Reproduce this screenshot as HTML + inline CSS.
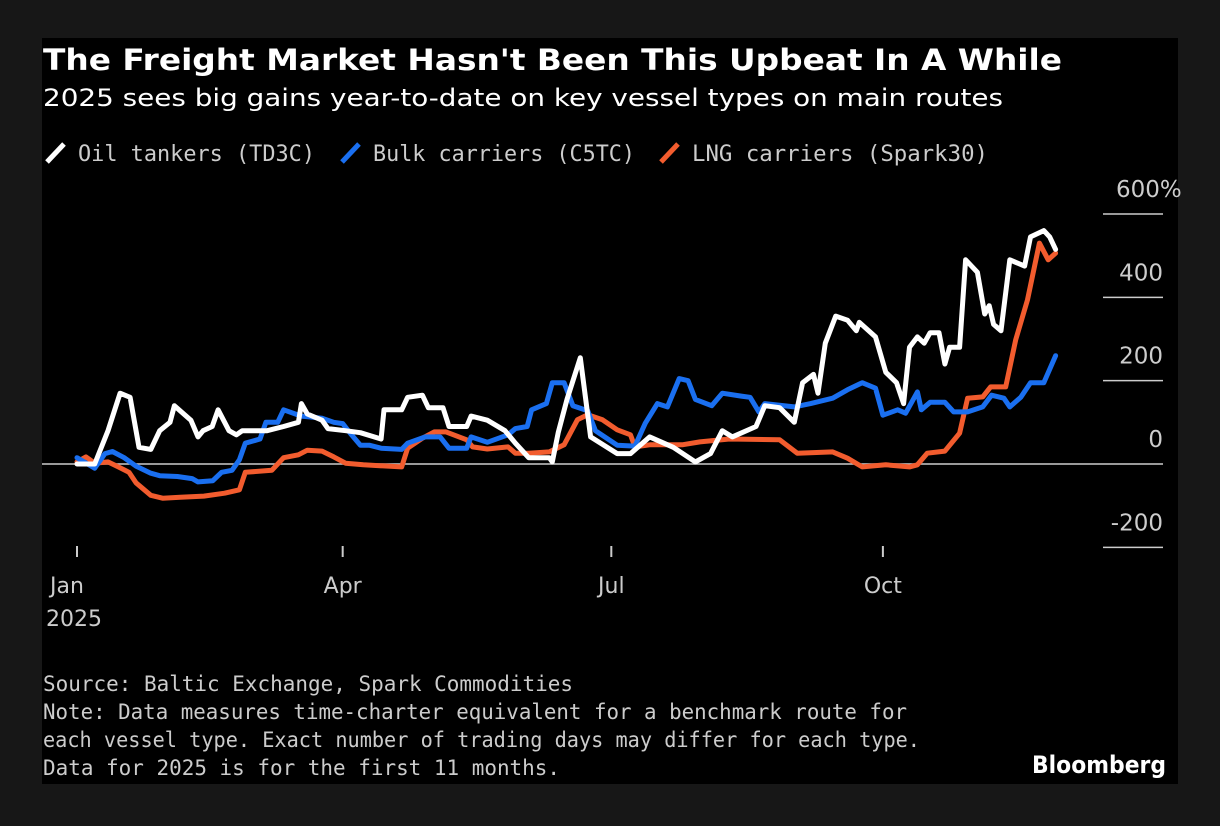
<!DOCTYPE html>
<html><head><meta charset="utf-8"><style>
html,body{margin:0;padding:0;background:#171717;}
svg{display:block;}
text{font-family:"DejaVu Sans","Liberation Sans",sans-serif;}
.mono{font-family:"DejaVu Sans Mono","Liberation Mono",monospace;}
</style></head><body>
<svg width="1220" height="826" viewBox="0 0 1220 826">
<rect x="0" y="0" width="1220" height="826" fill="#171717"/>
<rect x="42" y="38" width="1136" height="746" fill="#000"/>
<text x="43" y="70" fill="#fff" font-size="29" font-weight="bold" textLength="1019" lengthAdjust="spacingAndGlyphs">The Freight Market Hasn't Been This Upbeat In A While</text>
<text x="43" y="106" fill="#fff" font-size="24" textLength="960" lengthAdjust="spacingAndGlyphs">2025 sees big gains year-to-date on key vessel types on main routes</text>
<g>
 <g><line x1="47" y1="162" x2="64" y2="144" stroke="#fff" stroke-width="5"/><text class="mono" x="78" y="161" fill="#ccc" font-size="22" textLength="237" lengthAdjust="spacingAndGlyphs">Oil tankers (TD3C)</text></g>
 <g><line x1="342" y1="162" x2="359" y2="144" stroke="#1a6ff0" stroke-width="5"/><text class="mono" x="373" y="161" fill="#ccc" font-size="22" textLength="262" lengthAdjust="spacingAndGlyphs">Bulk carriers (C5TC)</text></g>
 <g><line x1="661" y1="162" x2="678" y2="144" stroke="#f25c2e" stroke-width="5"/><text class="mono" x="692" y="161" fill="#ccc" font-size="22" textLength="296" lengthAdjust="spacingAndGlyphs">LNG carriers (Spark30)</text></g>
</g>
<g id="axes"></g>
<g id="plot"></g>
<text class="mono" x="43" y="691" fill="#ccc" font-size="21" textLength="530" lengthAdjust="spacingAndGlyphs">Source: Baltic Exchange, Spark Commodities</text>
<text class="mono" x="43" y="719" fill="#ccc" font-size="21" textLength="864" lengthAdjust="spacingAndGlyphs">Note: Data measures time-charter equivalent for a benchmark route for</text>
<text class="mono" x="43" y="747" fill="#ccc" font-size="21" textLength="877" lengthAdjust="spacingAndGlyphs">each vessel type. Exact number of trading days may differ for each type.</text>
<text class="mono" x="43" y="775" fill="#ccc" font-size="21" textLength="517" lengthAdjust="spacingAndGlyphs">Data for 2025 is for the first 11 months.</text>
<text x="1032" y="773" fill="#fff" font-size="24" font-weight="bold" textLength="134" lengthAdjust="spacingAndGlyphs">Bloomberg</text>
</svg>
<script>
const yTicks=[600,400,200,0,-200];
const yTickLabels=["600%","400","200","0","-200"];
const xTickDays=[0,90,181,273];
const xTickLabels=["Jan","Apr","Jul","Oct"];
const oilDays=[0,6,10.5,14.6,18,21,25,28,31.5,33,38.6,41,42.7,45.8,47.8,51.5,54,56,64.4,70,75,76,78,83,85,91,96,103,104,110,112,117,119,124,126,132,133.5,139,145,148.5,153,160,161,163,166,170.5,174,183,187.5,194,202,209.5,214.6,218.6,222,230,233,238,243,245.8,249.5,251,253.5,257,261,264,265,270.5,274,277.6,280,282,284.7,287,289,292,294,295.6,299,301,305,307.5,309,310.5,313,316,321,323,327.5,329.5,331.5];
const oilVals=[0,0,80,170,160,40,35,80,100,140,105,65,80,90,130,80,70,80,80,90,100,145,120,105,85,80,75,60,130,130,160,165,135,135,90,90,115,105,80,50,15,15,5,75,155,255,65,25,25,65,40,5,25,80,65,90,140,135,100,195,215,170,290,355,345,320,340,305,220,195,145,280,305,290,315,315,240,280,280,490,460,360,380,335,320,490,475,545,560,545,515];
const bulkDays=[0,6,9.5,12,16,20,25,28,34,39,41,46,49,52.5,55,57,62,64,68,70,76,83,87,90,93,96,99,103,110,112,118,123,126,132,133.5,139,146,148.5,152.5,154,159,161,165,168,173,175.6,183,189,192.5,196.6,200,204,207,209.5,215,218.6,225,228,231,233,243,248.5,256,261,266,270.5,273,278,280.7,284.7,286,289,294,297,301.7,306.8,309.8,314,316,319.7,323,327.5,331.5];
const bulkVals=[15,-10,25,30,15,-5,-22,-28,-30,-35,-43,-40,-20,-15,10,50,60,100,100,130,115,110,100,97,70,45,45,38,35,50,65,65,38,38,65,52,70,85,90,130,145,195,195,140,128,80,45,43,98,145,137,205,200,155,140,170,163,160,125,145,137,145,158,178,195,182,117,130,122,173,130,148,148,125,125,137,165,158,137,160,195,195,260];
const lngDays=[0,3,6,10.5,14,17.6,20,25,29,35,43,50,55,57,66,70,75,78,83,87,91,97,110,112,117,121,125,132,134,139,146,148.5,153,160,165,169.5,173,178,183,187.5,189,194,205,211,221,238,244,256,261,266,274,282,284.7,288,294,299,301.7,306.8,309.5,314.6,318,322,326,329,331.5];
const lngVals=[5,17,2,5,-7,-20,-45,-75,-82,-80,-77,-70,-62,-20,-15,15,22,33,31,17,2,-2,-7,38,62,77,77,58,41,36,41,26,26,29,46,106,118,106,82,70,41,46,46,53,60,58,26,29,14,-7,-2,-7,-2,26,31,74,158,161,185,185,298,394,530,490,506];

const NS="http://www.w3.org/2000/svg";
const xScale=d=>77+d*2.952;
const yScale=v=>464-v*0.4167;
const axes=document.getElementById('axes');
const plot=document.getElementById('plot');
function mk(tag,attrs,parent){const e=document.createElementNS(NS,tag);for(const k in attrs)e.setAttribute(k,attrs[k]);parent.appendChild(e);return e;}

yTicks.forEach((t,i)=>{
  if(t!==0){
    const g=mk('line',{x1:1103,x2:1163,y1:yScale(t),y2:yScale(t),stroke:'#ccc','stroke-width':1.5},axes);
    
    
  }
  const lbl=mk('text',{x:1163,y:yScale(t)-17,fill:'#ccc','font-size':23,'text-anchor':'end'},axes);
  lbl.textContent=yTickLabels[i].replace('%','');
  if(yTickLabels[i].endsWith('%')){const s=mk('tspan',{},lbl);s.textContent='%';lbl.setAttribute('text-anchor','start');lbl.setAttribute('x',1116);}
  
  
});
const zl=mk('line',{x1:42,x2:1163,y1:yScale(0),y2:yScale(0),stroke:'#ccc','stroke-width':1.5},axes);


xTickDays.forEach((d,i)=>{
  const tk=mk('line',{x1:xScale(d),x2:xScale(d),y1:546,y2:557,stroke:'#ccc','stroke-width':2},axes);
  
  
  const lb=mk('text',{x:xScale(d),y:593,fill:'#ccc','font-size':22,'text-anchor':i===0?'start':'middle'},axes);
  if(i===0)lb.setAttribute('x',50);
  lb.textContent=xTickLabels[i];
  
  
});
const yr=mk('text',{x:46,y:626,fill:'#ccc','font-size':22},axes);
yr.textContent='2025';



function series(days,vals,color,name){
  const d=days.map((x,i)=>(i?'L':'M')+xScale(x).toFixed(1)+','+yScale(vals[i]).toFixed(1)).join(' ');
  const p=mk('path',{d:d,fill:'none',stroke:color,'stroke-width':5,'stroke-linejoin':'round','stroke-linecap':'round'},plot);
  
  
}
series(lngDays,lngVals,'#f25c2e','lng-carriers-line');
series(bulkDays,bulkVals,'#1a6ff0','bulk-carriers-line');
series(oilDays,oilVals,'#ffffff','oil-tankers-line');
</script>
</body></html>
